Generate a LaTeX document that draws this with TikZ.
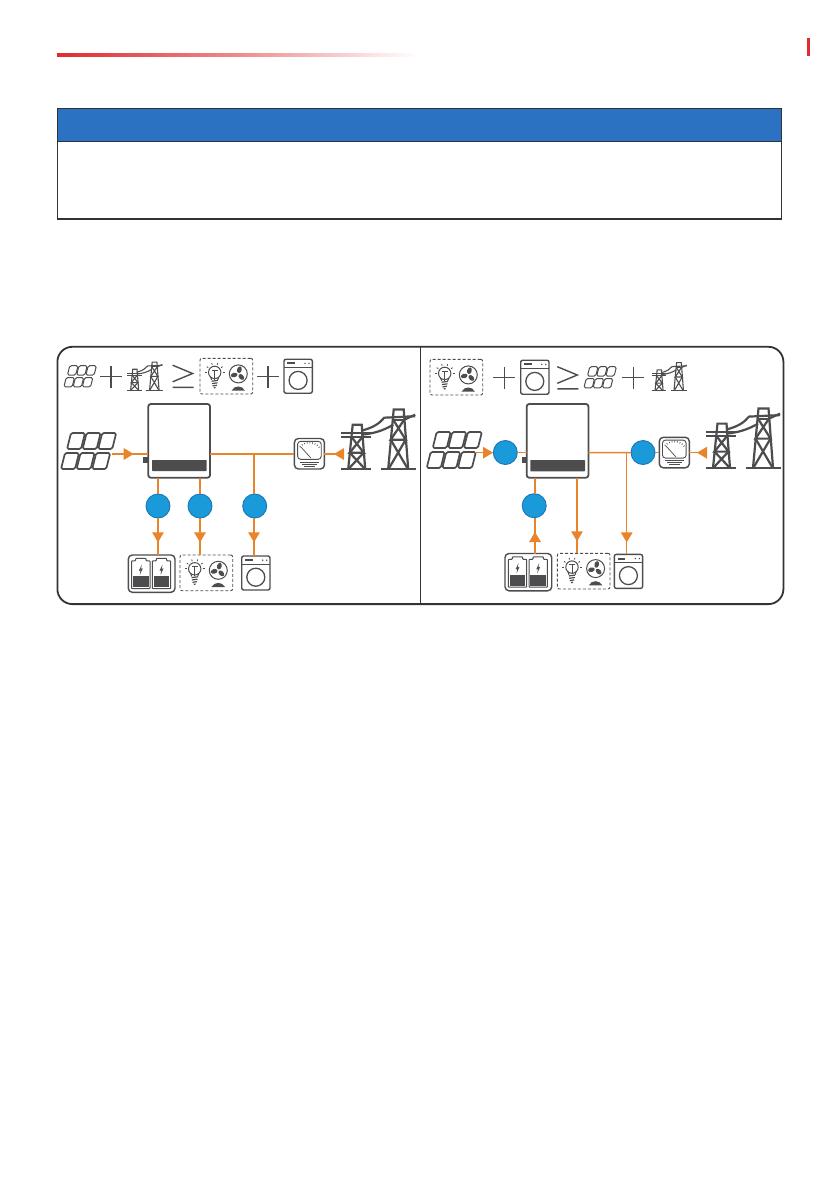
\documentclass[tikz,border=0pt]{standalone}
\usetikzlibrary{arrows.meta,decorations.markings,calc}
\definecolor{ink}{HTML}{4D4D4F}
\definecolor{frameink}{HTML}{333336}
\definecolor{flowc}{HTML}{E8842A}
\definecolor{dotfill}{HTML}{1A9AD8}
\definecolor{dotline}{HTML}{1B75BC}
\definecolor{headblue}{HTML}{2B72C2}
\definecolor{brand}{HTML}{E02B2F}
\tikzset{
  boxsz/.style 2 args={minimum width=#1pt,minimum height=#2pt,inner sep=0pt,outer sep=0pt,anchor=north west},
  invbox/.style={boxsz={61.7}{73.7},draw=ink,line width=1.8pt,rounded corners=2.5pt,fill=white},
  washbox/.style={boxsz={28.3}{34},draw=ink,line width=1.4pt,rounded corners=2pt,fill=white},
  batbox/.style={boxsz={46.7}{37.3},draw=ink,line width=1.4pt,rounded corners=4pt,fill=white},
  meterbox/.style={boxsz={30}{30.5},draw=ink,line width=1.4pt,rounded corners=4pt,fill=white},
  loadbox/.style={boxsz={52.7}{35.7},draw=ink,line width=.9pt,dash pattern=on 3pt off 2pt,rounded corners=2pt},
  ghost/.style 2 args={boxsz={#1}{#2}},
  dotnode/.style={circle,minimum size=24pt,inner sep=0pt,outer sep=0pt,fill=dotfill,draw=dotline,line width=.9pt},
  flow/.style={draw=flowc,line width=1.5pt},
  tipat/.style={postaction={decorate},decoration={markings,mark=at position #1 with {\arrow[flowc]{Triangle[length=10pt,width=11.5pt]}}}},
  sign/.style={draw=ink,line width=1.4pt},
}
\newcommand\iconsolar[4]{\begin{scope}[shift={(#1,#2)},scale=#3,line width=#4pt]
  \foreach \k in {0,1,2}{
    \draw[ink,rounded corners=1.6pt,line join=round] ({7+15.6*\k+4},0)--({7+15.6*\k+18},0)--({7+15.6*\k+14},16)--({7+15.6*\k},16)--cycle;
    \draw[ink,rounded corners=1.6pt,line join=round] ({1+15.6*\k+4},20)--({1+15.6*\k+18},20)--({1+15.6*\k+14},36)--({1+15.6*\k},36)--cycle;
  }
\end{scope}}
\newcommand\icontower[4]{\begin{scope}[shift={(#1,#2)},scale=#3,line width=#4pt,draw=ink]
  % left tower
  \draw[ink] (0,60.3)--(30,60.3);
  \draw[ink] (7,60.3)--(11.5,16)--(20.5,16)--(24,60.3);
  \draw[ink] (0,24.5)--(30,24.5) (0,28.5)--(30,28.5);
  \draw[ink] (10.5,28.5)--(22.5,44)--(8.5,44)--(21,28.5);
  \draw[ink] (8.5,44)--(23.5,60) (22.5,44)--(7.5,60);
  % right tower
  \draw[ink] (40,60.3)--(75,60.3);
  \draw[ink] (47,60.3)--(52.5,.8)--(62.5,.8)--(67,60.3);
  \draw[ink] (52,11)--(63,11);
  \draw[ink] (52,11)--(64.5,31)--(49.5,31)--(63,11);
  \draw[ink] (49.5,31)--(66.5,60) (64.5,31)--(47.5,60);
  % wires and arms
  \draw[ink] (20,22) .. controls (32,19) and (38,15) .. (43,9)--(74,7.5);
  \draw[ink] (20,26) .. controls (32,25) and (42,22) .. (52,16);
  \draw[ink] (63,11)--(74,6);
\end{scope}}
\newcommand\iconwash[3]{\begin{scope}[shift={(#1,#2)},scale=#3]
  \draw[ink,line width=1pt] (0,8.2)--(28.3,8.2);
  \fill[ink] (3.2,3.2) rectangle (11,5.2);
  \fill[ink] (21,4.2) circle (.8) (25,4.2) circle (.8);
  \draw[ink,line width=1.3pt] (14.1,21.2) circle (9);
\end{scope}}
\newcommand\iconbat[3]{\begin{scope}[shift={(#1,#2)},scale=#3]
  \foreach \x in {3.3,24}{
    \draw[ink,line width=1pt,rounded corners=.7pt] (\x,5.8)--(\x+4,5.8)--(\x+4,3.4)--(\x+14.4,3.4)--(\x+14.4,5.8)--(\x+18.4,5.8)--(\x+18.4,33.6)--(\x,33.6)--cycle;
    \fill[ink] (\x+1.4,21) rectangle (\x+17,32.4);
    \fill[ink] (\x+10.2,9.5)--(\x+7.2,15.9)--(\x+9,15.5)--(\x+8.2,20)--(\x+11.2,13.4)--(\x+9.4,13.8)--cycle;
  }
\end{scope}}
\newcommand\iconload[2]{\begin{scope}[shift={(#1,#2)}]
  % bulb
  \draw[ink,line width=1pt] (10.6,18.4)--(11.7,21.4) (18.8,18.4)--(17.7,21.4);
  \draw[ink,line width=1pt] (14.7,13.8) circle (6.2);
  \draw[ink,line width=1pt] (12,11.5)--(17.5,11.5) (14.7,11.5)--(14.7,21);
  \draw[ink,line width=1.2pt] (11.6,22.6)--(17.8,21.8) (11.9,25)--(17.5,24.2) (12.5,27.4)--(16.9,26.6) (13.8,29.4)--(15.6,29);
  \foreach \a in {0,36,72,108,144,180}{
    \draw[ink,line width=.8pt] ({14.7+8*cos(\a)},{13.8-8*sin(\a)})--({14.7+9.8*cos(\a)},{13.8-9.8*sin(\a)});
  }
  % fan
  \draw[ink,line width=1pt] (38.3,15.3) circle (9);
  \foreach \a in {75,195,315}{
    \fill[ink,rotate around={\a:(38.3,15.3)}] (42.6,15.3) ellipse (3.4 and 2.3);
  }
  \fill[ink] (31.5,32) .. controls (34.5,26.5) and (42,26.5) .. (45,32)--cycle;
\end{scope}}
\newcommand\iconmeter[2]{\begin{scope}[shift={(#1,#2)}]
  \draw[ink,line width=.9pt,rounded corners=3pt] (3.2,2.8) rectangle (26.8,20.8);
  \foreach \a in {40,52,64,76,88,100,112,124,136}{
    \draw[ink,line width=.6pt] ({15+12*cos(\a)},{17-12*sin(\a)})--({15+13.6*cos(\a)},{17-13.6*sin(\a)});
  }
  \draw[ink,line width=.7pt] (6.5,8.5)--(16.5,19.5);
  \draw[ink,line width=.7pt] (5.5,23.5)--(24.5,23.5) (7.5,25.5)--(22.5,25.5) (9.5,27.5)--(20.5,27.5);
\end{scope}}
\newcommand\plusign[2]{\draw[sign] (#1-10.8,#2)--(#1+10.8,#2) (#1,#2-10.8)--(#1,#2+10.8);}
\newcommand\geqsign[2]{\draw[sign,line join=miter] (#1,#2)--(#1+20,#2+8.3)--(#1,#2+16.6) (#1,#2+22.2)--(#1+21,#2+22.2);}
\begin{document}
\begin{tikzpicture}[x=1pt,y=-1pt]
\useasboundingbox[fill=white] (0,0) rectangle (839,1191);
% page header
\node[boxsz={360}{2.8},left color=brand,right color=white,middle color=brand!55!white] (rule) at (57,53.9) {};
\node[boxsz={3.4}{18},fill=brand] (tick) at (806.8,38) {};
% notice table
\node[boxsz={723.6}{110.2},draw=frameink,line width=1.5pt,fill=white] (note) at (57.7,108.6) {};
\node[boxsz={723.6}{32.4},draw=frameink,line width=1pt,fill=headblue] (notehead) at (57.7,108.6) {};
% frame
\node[boxsz={726}{257.3},draw=frameink,line width=1.8pt,rounded corners=15pt] (frame) at (57.4,346.8) {};
\draw[frameink,line width=1.8pt] (frame.north)--(frame.south);

%%%%%% LEFT PANEL
\iconsolar{63.3}{365.7}{.59}{1}
\plusign{110.8}{376.7}
\icontower{127.3}{361.7}{.474}{1.1}
\geqsign{172.6}{365.2}
\node[loadbox] (ltl) at (200,358.3) {};
\iconload{200}{358.6}
\plusign{268}{376.7}
\node[washbox] (ltw) at (284,359.2) {};
\iconwash{284}{359.2}{1}

\node[invbox] (inv1) at (148.3,404) {};
\fill[ink,rounded corners=.6pt] (152,460) rectangle (206.7,471);
\fill[ink] (143.3,457.3) rectangle (148.3,462.7);
\node[ghost={55}{36}] (pv1) at (60,433) {};
\iconsolar{60}{433}{1}{1.7}
\coordinate (pv1out) at (111.7,454);
\node[meterbox] (m1) at (294.4,438.5) {};
\iconmeter{294.4}{438.5}
\node[ghost={75}{61}] (g1) at (341.2,408.7) {};
\icontower{341.2}{408.7}{1}{2.2}
\node[dotnode] (a1) at (158,506) {};
\node[dotnode] (a2) at (200,506) {};
\node[dotnode] (a3) at (254.7,506) {};
\node[batbox] (b1) at (128.3,555) {};
\iconbat{128.3}{555}{1}
\node[loadbox] (l1) at (180,555) {};
\iconload{180}{555}
\node[washbox] (w1) at (241.7,556) {};
\iconwash{241.7}{556}{1}
\coordinate (j1) at (254,454);
\coordinate (g1in) at (342,454);

\draw[flow,tipat=22pt] (pv1out)--(pv1out -| inv1.west);
\draw[flow] (inv1.east |- j1)--(j1)--(j1 -| m1.west);
\draw[flow,tipat=8pt] (g1in)--(g1in -| m1.east);
\draw[flow] (inv1.south -| a1)--(a1);
\draw[flow] (inv1.south -| a2)--(a2);
\draw[flow] (j1)--(j1 |- a3.north);
\draw[flow,tipat=-12.7pt] (a1)--(a1 |- b1.north);
\draw[flow,tipat=-12.7pt] (a2)--(a2 |- l1.north);
\draw[flow,tipat=-13.7pt] (a3.south -| j1)--(j1 |- w1.north);

%%%%%% RIGHT PANEL
\node[loadbox] (rtl) at (430,359.3) {};
\iconload{430}{359.6}
\plusign{504.2}{377.7}
\node[washbox] (rtw) at (520.7,360.2) {};
\iconwash{520.7}{360.2}{1}
\geqsign{557.3}{366.7}
\iconsolar{583.3}{366.7}{.59}{1}
\plusign{633.2}{377.7}
\icontower{651.7}{362.3}{.474}{1.1}

\node[invbox] (inv2) at (526.7,404) {};
\fill[ink,rounded corners=.6pt] (530.3,460) rectangle (585,471.3);
\fill[ink] (521.7,457.3) rectangle (526.7,462.7);
\node[ghost={55}{36}] (pv2) at (425.7,432) {};
\iconsolar{425.7}{432}{1}{1.7}
\coordinate (pv2out) at (475,452.7);
\node[meterbox] (m2) at (659.3,437.3) {};
\iconmeter{659.3}{437.3}
\node[ghost={75}{61}] (g2) at (706,407.6) {};
\icontower{706}{407.6}{1}{2.2}
\node[dotnode] (d1) at (505.3,452.5) {};
\node[dotnode] (d2) at (643,452.5) {};
\node[dotnode] (d3) at (534.2,505.7) {};
\node[batbox] (b2) at (505,553.5) {};
\iconbat{505}{553.5}{1}
\node[loadbox] (l2) at (557.3,553.3) {};
\iconload{557.3}{553.3}
\node[washbox] (w2) at (614.3,554.4) {};
\iconwash{614.3}{554.4}{1}
\coordinate (j2) at (626.7,452.7);
\coordinate (g2in) at (707,452.7);
\coordinate (s2) at (577,477.7);
\coordinate (s3) at (535,477.7);

\draw[flow,tipat=-.3pt] (pv2out)--(pv2out -| d1.west);
\draw[flow] (d1)--(d1 -| inv2.west);
\draw[flow] (inv2.east |- j2)--(d2);
\draw[flow] (d2)--(d2 -| m2.west);
\draw[flow,tipat=10pt] (g2in)--(g2in -| m2.east);
\draw[flow,tipat=-12pt] (j2)--(j2 |- w2.north);
\draw[flow,tipat=-12pt] (s2)--(s2 |- l2.north);
\draw[flow] (s3)--(s3 |- d3.north);
\draw[flow,tipat=21.5pt] (s3 |- b2.north)--(s3 |- d3.south);
\end{tikzpicture}
\end{document}
